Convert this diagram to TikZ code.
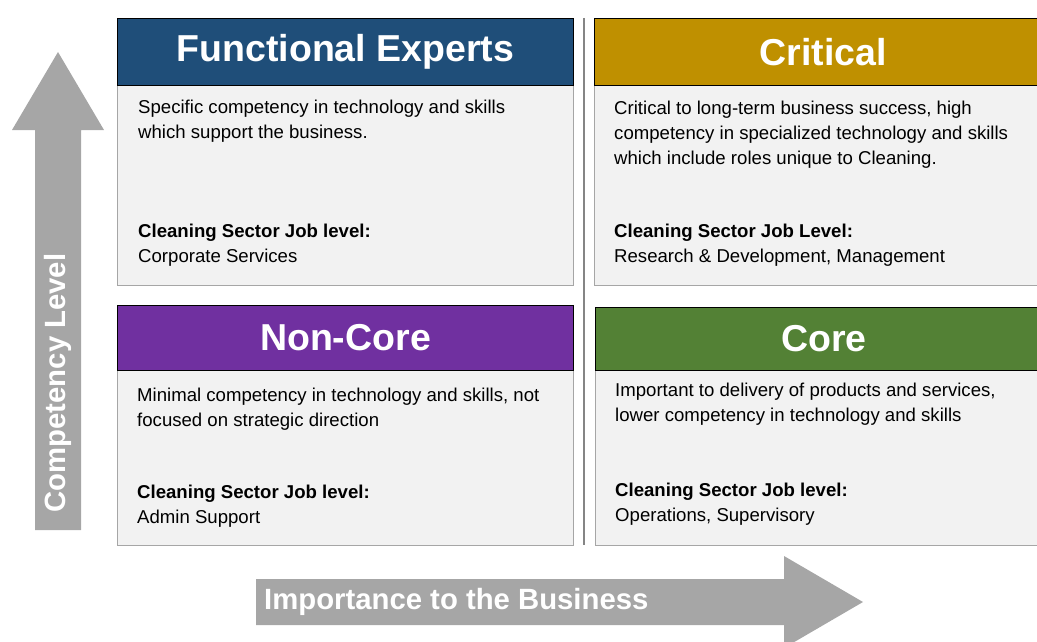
\documentclass[tikz,border=0pt]{standalone}
\usepackage{fontspec}
\setmainfont{Liberation Sans}
\setsansfont{Liberation Sans}

\definecolor{feblue}{HTML}{1F4E79}
\definecolor{crgold}{HTML}{BF9000}
\definecolor{ncpurple}{HTML}{7030A0}
\definecolor{cogreen}{HTML}{538135}
\definecolor{bodygray}{HTML}{F2F2F2}
\definecolor{edgegray}{HTML}{A6A6A6}
\definecolor{axisgray}{HTML}{A6A6A6}

\tikzset{
  quadhead/.style={draw=black,line width=0.9pt,text=white,inner sep=0pt,anchor=north west,
    font={\sffamily\bfseries\fontsize{37.5}{37.5}\selectfont}},
  quadbody/.style={draw=edgegray,line width=1.3pt,fill=bodygray,inner sep=0pt,anchor=north west},
  desc/.style={anchor=north west,inner sep=0pt,align=left,text=black,
    font={\sffamily\fontsize{18.6}{25}\selectfont}},
  axisarrow/.style={fill=axisgray,draw=none},
  axislabel/.style={text=white,inner sep=0pt,font={\sffamily\bfseries\fontsize{29.3}{29.3}\selectfont}}
}

\begin{document}
\begin{tikzpicture}[font={\sffamily},x=1pt,y=-1pt]
\useasboundingbox (0,0) rectangle (1037,642);

\foreach \q/\l/\r/\t/\m/\b/\col/\title in {fe/117/573/18/85/285/feblue/Functional Experts,
		cr/594/1052/18/85/285/crgold/Critical,
		nc/117/573/305/370/545/ncpurple/Non-Core,
		co/595/1052/307/370/545/cogreen/Core} {
		\node[quadbody,minimum width={(\r-\l)*1pt},minimum height={(\b-\m)*1pt}] (\q-body) at (\l,\m) {};
		\node[quadhead,fill=\col,minimum width={(\r-\l)*1pt},minimum height={(\m-\t)*1pt}] (\q-head) at (\l,\t) {\title};
}

\draw[edgegray!80!black,line width=2pt] (584,18) coordinate (divtop) -- (584,545) coordinate (divbot);

\node[desc] (fe-desc) at (138,99.5) {Specific competency in technology and skills\\which support the business.};
\node[desc] (fe-job) at (138,223.5) {{\bfseries Cleaning Sector Job level:}\\Corporate Services};

\node[desc] (cr-desc) at (614,100.5) {Critical to long-term business success, high\\competency in specialized technology and skills\\which include roles unique to Cleaning.};
\node[desc] (cr-job) at (614,223.5) {{\bfseries Cleaning Sector Job Level:}\\Research \& Development, Management};

\node[desc] (nc-desc) at (137,387.5) {Minimal competency in technology and skills, not\\focused on strategic direction};
\node[desc] (nc-job) at (137,484.5) {{\bfseries Cleaning Sector Job level:}\\Admin Support};

\node[desc] (co-desc) at (615,382.5) {Important to delivery of products and services,\\lower competency in technology and skills};
\node[desc] (co-job) at (615,482.5) {{\bfseries Cleaning Sector Job level:}\\Operations, Supervisory};

\fill[axisarrow] (35,530) -- (35,130) -- (12,130) -- (58,52) -- (104,130) -- (81,130) -- (81,530) -- cycle;
\node[axislabel,rotate=90] (ylabel) at (58,383) {Competency Level};

\fill[axisarrow] (256,579) -- (784,579) -- (784,556) -- (863,602) -- (784,648) -- (784,625) -- (256,625) -- cycle;
\node[axislabel,anchor=west] (xlabel) at (264,602) {Importance to the Business};

\end{tikzpicture}
\end{document}
